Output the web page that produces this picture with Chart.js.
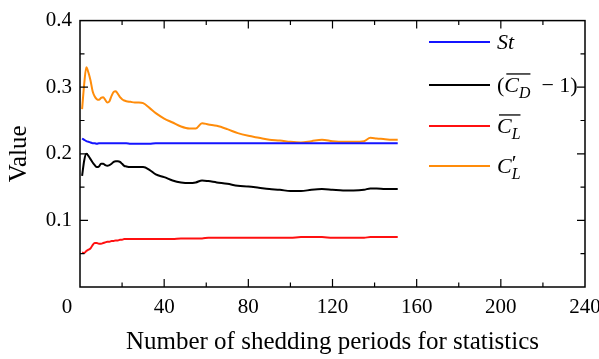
<!DOCTYPE html>
<html>
<head>
<meta charset="utf-8">
<script src="https://cdn.jsdelivr.net/npm/chart.js@4/dist/chart.umd.min.js"></script>
<style>
  html, body { margin: 0; padding: 0; background: #fff; }
</style>
</head>
<body>
<canvas id="chart" width="599" height="359"></canvas>
<script>
// number of shedding periods used for the statistics
const periods = [1,2,3,4,5,6,7,8,9,10,11,12,13,14,15,16,17,18,19,20,21,22,
    24,26,28,30, 33,36,40,44,48,52,55,58,61,65,
    70,75,80,85,90,95,100,105,110,115,120,125,130,135,
    138,141,145,148,151];

const strouhal = [0.223,0.221,0.219,0.218,0.217,0.216,0.216,0.215,0.216,0.216,0.216,0.216,0.216,0.216,0.216,0.216,0.216,0.216,0.216,0.216,0.216,0.216,
    0.215,0.215,0.215,0.215, 0.215,0.216,0.216,0.216,0.216,0.216,0.216,0.216,0.216,0.216,
    0.216,0.216,0.216,0.216,0.216,0.216,0.216,0.216,0.216,0.216,0.216,0.216,0.216,0.216,
    0.216,0.216,0.216,0.216,0.216];

const dragMinusOne = [0.167,0.190,0.200,0.197,0.192,0.187,0.183,0.180,0.181,0.185,0.185,0.183,0.182,0.183,0.185,0.188,0.189,0.189,0.188,0.185,0.182,0.181,
    0.180,0.180,0.180,0.180, 0.176,0.169,0.165,0.160,0.157,0.156,0.157,0.160,0.159,0.157,
    0.155,0.152,0.151,0.149,0.147,0.146,0.144,0.144,0.146,0.147,0.146,0.145,0.145,0.146,
    0.148,0.148,0.147,0.147,0.147];

const liftMean = [0.052,0.051,0.054,0.056,0.058,0.063,0.066,0.066,0.065,0.065,0.066,0.067,0.068,0.068,0.069,0.069,0.070,0.070,0.071,0.071,0.072,0.072,
    0.072,0.072,0.072,0.072, 0.072,0.072,0.072,0.072,0.073,0.073,0.073,0.073,0.074,0.074,
    0.074,0.074,0.074,0.074,0.074,0.074,0.074,0.075,0.075,0.075,0.074,0.074,0.074,0.074,
    0.075,0.075,0.075,0.075,0.075];

const liftRms = [0.267,0.305,0.330,0.322,0.310,0.294,0.286,0.282,0.281,0.284,0.285,0.281,0.277,0.279,0.287,0.293,0.294,0.290,0.285,0.282,0.280,0.279,
    0.278,0.277,0.277,0.276, 0.269,0.261,0.253,0.247,0.241,0.238,0.238,0.246,0.244,0.242,
    0.237,0.231,0.227,0.224,0.221,0.220,0.218,0.217,0.219,0.221,0.219,0.218,0.218,0.219,
    0.224,0.223,0.222,0.221,0.221];

const xTickValues = [0, 40, 80, 120, 160, 200, 240];

// legend labels, split into pieces (it = italic, over = overbar, sub/sup)
const legendLabels = [
    [{ t: "St", it: true }],
    [{ t: "(" }, { t: "C", it: true, over: true }, { t: "D", it: true, sub: true, over: true }, { t: "  \u2212 1)" }],
    [{ t: "C", it: true, over: true }, { t: "L", it: true, sub: true, over: true }],
    [{ t: "C", it: true }, { t: "\u2032", sup: true, noAdvance: true, dx: 0 }, { t: "L", it: true, sub: true }]
];
const seriesColors = ["#1414ff", "#000000", "#ff1010", "#ff8c0a"];
const seriesValues = [strouhal, dragMinusOne, liftMean, liftRms];

const FONT = '"Liberation Serif", "DejaVu Serif", serif';

function toPoints(values) {
    return values.map((v, i) => ({ x: periods[i], y: v }));
}

function drawRich(ctx, x, y, parts, size) {
    let overStart = null, overEnd = null;
    parts.forEach(p => {
        const fs = p.sub ? size * 0.72 : size;
        ctx.font = (p.it ? "italic " : "") + fs + "px " + FONT;
        const dy = p.sub ? size * 0.28 : p.sup ? -size * 0.12 : 0;
        const w = ctx.measureText(p.t).width;
        ctx.fillText(p.t, x + (p.dx || 0), y + dy);
        if (p.over) {
            if (overStart === null) overStart = x + 2;
            overEnd = x + w;
        }
        if (!p.noAdvance) x += w;
    });
    if (overStart !== null) {
        ctx.beginPath();
        ctx.lineWidth = 1.3;
        ctx.moveTo(overStart, y - size * 0.82);
        ctx.lineTo(overEnd, y - size * 0.82);
        ctx.stroke();
    }
}

// box frame with inward ticks on all four sides, x tick labels and legend
const framePlugin = {
    id: "frame",
    afterDatasetsDraw(chart) {
        const ctx = chart.ctx;
        const a = chart.chartArea;
        const xs = chart.scales.x, ys = chart.scales.y;
        ctx.save();
        ctx.strokeStyle = "#000";
        ctx.lineWidth = 1.5;
        ctx.strokeRect(a.left, a.top, a.right - a.left, a.bottom - a.top);
        ctx.lineWidth = 1.2;
        ctx.beginPath();
        for (let v = 20; v < 240; v += 20) {
            const px = xs.getPixelForValue(v);
            const len = v % 40 === 0 ? 8 : 4.5;
            ctx.moveTo(px, a.bottom); ctx.lineTo(px, a.bottom - len);
            ctx.moveTo(px, a.top); ctx.lineTo(px, a.top + len);
        }
        for (let k = 1; k < 8; k++) {
            const py = ys.getPixelForValue(k * 0.05);
            const len = k % 2 === 0 ? 8 : 4.5;
            ctx.moveTo(a.left, py); ctx.lineTo(a.left + len, py);
            ctx.moveTo(a.right, py); ctx.lineTo(a.right - len, py);
        }
        ctx.stroke();

        // x tick labels (the "0" sits a bit left of the corner, like the original)
        ctx.fillStyle = "#000";
        ctx.font = "21px " + FONT;
        ctx.textAlign = "center";
        ctx.textBaseline = "middle";
        xTickValues.forEach(v => {
            const px = xs.getPixelForValue(v) + (v === 0 ? -13 : 0);
            ctx.fillText(String(v), px, a.bottom + 20);
        });
        ctx.restore();
    },
    afterDraw(chart) {
        const ctx = chart.ctx;
        const rows = [42, 85, 126, 166];
        ctx.save();
        ctx.fillStyle = "#000";
        ctx.textBaseline = "alphabetic";
        ctx.textAlign = "left";
        legendLabels.forEach((parts, i) => {
            ctx.beginPath();
            ctx.strokeStyle = seriesColors[i];
            ctx.lineWidth = 2;
            ctx.moveTo(429, rows[i]);
            ctx.lineTo(490, rows[i]);
            ctx.stroke();
            ctx.strokeStyle = "#000";
            drawRich(ctx, 497, rows[i] + 7, parts, 22);
        });
        ctx.restore();
    }
};

new Chart(document.getElementById("chart"), {
    type: "line",
    data: {
        datasets: seriesValues.map((vals, i) => ({
            data: toPoints(vals),
            borderColor: seriesColors[i],
            borderWidth: 2,
            pointRadius: 0,
            cubicInterpolationMode: "monotone",
            fill: false
        }))
    },
    options: {
        responsive: false,
        animation: false,
        layout: { padding: { top: 12, right: 14, left: 0, bottom: 0 } },
        plugins: { legend: { display: false }, tooltip: { enabled: false } },
        scales: {
            x: {
                type: "linear",
                min: 0, max: 240,
                afterFit: s => { s.height = 72; },
                grid: { display: false, drawTicks: false },
                border: { display: false },
                ticks: { display: false, stepSize: 40 },
                title: { display: true, text: "Number of shedding periods for statistics", color: "#000",
                         font: { family: FONT, size: 25 }, padding: { top: 0, bottom: 2 } }
            },
            y: {
                min: 0, max: 0.4,
                afterFit: s => { s.width = 80; },
                grid: { display: false, drawTicks: false },
                border: { display: false },
                ticks: {
                    stepSize: 0.1, padding: 8, color: "#000", font: { family: FONT, size: 21 },
                    callback: v => (Math.abs(v) < 1e-9 ? "" : v.toFixed(1))
                },
                title: { display: true, text: "Value", color: "#000", font: { family: FONT, size: 25 },
                         padding: { top: 4, bottom: 0 } }
            }
        }
    },
    plugins: [framePlugin]
});
</script>
</body>
</html>
